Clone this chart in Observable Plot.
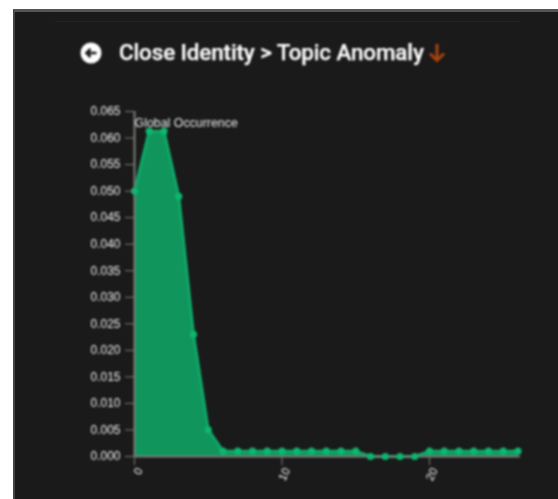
<!DOCTYPE html>
<html><head><meta charset="utf-8">
<script src="https://cdn.jsdelivr.net/npm/d3@7"></script>
<script src="https://cdn.jsdelivr.net/npm/@observablehq/plot@0.6"></script>
<style>
html,body{margin:0;padding:0;background:#fff;width:558px;height:499px;overflow:hidden}
#panel{position:absolute;left:13px;top:9px;width:545px;height:490px;background:#1a1a1a;border-top:3px solid #555;border-left:2px solid #444;box-sizing:border-box}
#hair{position:absolute;left:55px;top:21px;width:465px;height:1px;background:#232323}
#chart{position:absolute;left:0;top:0;filter:blur(.8px)}
#title{position:absolute;left:119px;top:39px;font:500 22.4px Roboto,sans-serif;color:#fff;white-space:nowrap;filter:blur(.8px) brightness(1.1);-webkit-text-stroke:.25px #fff;letter-spacing:-.1px}
#icon{position:absolute;left:80px;top:42px;filter:blur(.8px)}
#down{position:absolute;left:427px;top:43px;filter:blur(.8px)}
</style></head><body>
<div id="panel"></div><div id="hair"></div>
<svg id="icon" width="22" height="22" viewBox="0 0 22 22"><circle cx="11" cy="11" r="10.5" fill="#fff"/><path d="M16.5 11H7M10.5 7 6.5 11l4 4" fill="none" stroke="#1a1a1a" stroke-width="2.6"/></svg>
<div id="title">Close Identity &gt; Topic Anomaly</div>
<svg id="down" width="20" height="20" viewBox="0 0 20 20"><path d="M10 1V17M3 10.5 10 17.5 17 10.5" fill="none" stroke="#a8430f" stroke-width="3"/></svg>
<div id="chart"></div>
<script>
const xs = [0,1,2,3,4,5,6,7,8,9,10,11,12,13,14,15,16,17,18,19,20,21,22,23,24,25,26];
const occurrence = [0.05,0.0613,0.0613,0.049,0.023,0.005,0.001,0.001,0.001,0.001,0.001,0.001,0.001,0.001,0.001,0.001,0,0,0,0,0.001,0.001,0.001,0.001,0.001,0.001,0.001];
const yTicks = d3.range(0,14).map(i=>+(i*0.005).toFixed(3));
const xTicks = [0,10,20];
const seriesLabel = "Global Occurrence";
const table = xs.map((x,i)=>({x,y:occurrence[i]}));
const plot = Plot.plot({
  width:558,height:499,
  marginLeft:134,marginRight:38,marginTop:111,marginBottom:43,
  style:{background:"transparent",fontFamily:"'Liberation Sans',Arial,sans-serif",fontSize:"12px"},
  x:{domain:[0,26.17],ticks:xTicks,label:null},
  y:{domain:[0,0.065],ticks:yTicks,label:null},
  marks:[
    Plot.areaY(table,{x:"x",y:"y",fill:"#119a60",fillOpacity:.97}),
    Plot.line(table,{x:"x",y:"y",stroke:"#0fa868",strokeWidth:3}),
    Plot.ruleY([0],{stroke:"#7c7c78",strokeWidth:2}),
    Plot.ruleX([0],{stroke:"#7c7c78",strokeWidth:2}),
    Plot.dot(table,{x:"x",y:"y",r:3.6,fill:"#0cb86e"}),
    Plot.axisY({ticks:yTicks,tickFormat:d3.format(".3f"),tickSize:9,tickPadding:5,stroke:"#7c7c78",fill:"#f0f0f0",label:null}),
    Plot.axisX({ticks:xTicks,text:null,tickSize:9,stroke:"#7c7c78",label:null}),
    Plot.axisX({ticks:xTicks,tickFormat:d=>String(d),tickSize:0,tickPadding:12,tickRotate:-65,dx:5,fontSize:11.5,fill:"#f0f0f0",label:null}),
    Plot.text([seriesLabel],{frameAnchor:"top-left",dy:12,text:d=>d,fill:"#eaeaea",fontSize:12.4,textAnchor:"start",lineAnchor:"middle"})
  ]
});
document.getElementById("chart").append(plot);
</script>
</body></html>
